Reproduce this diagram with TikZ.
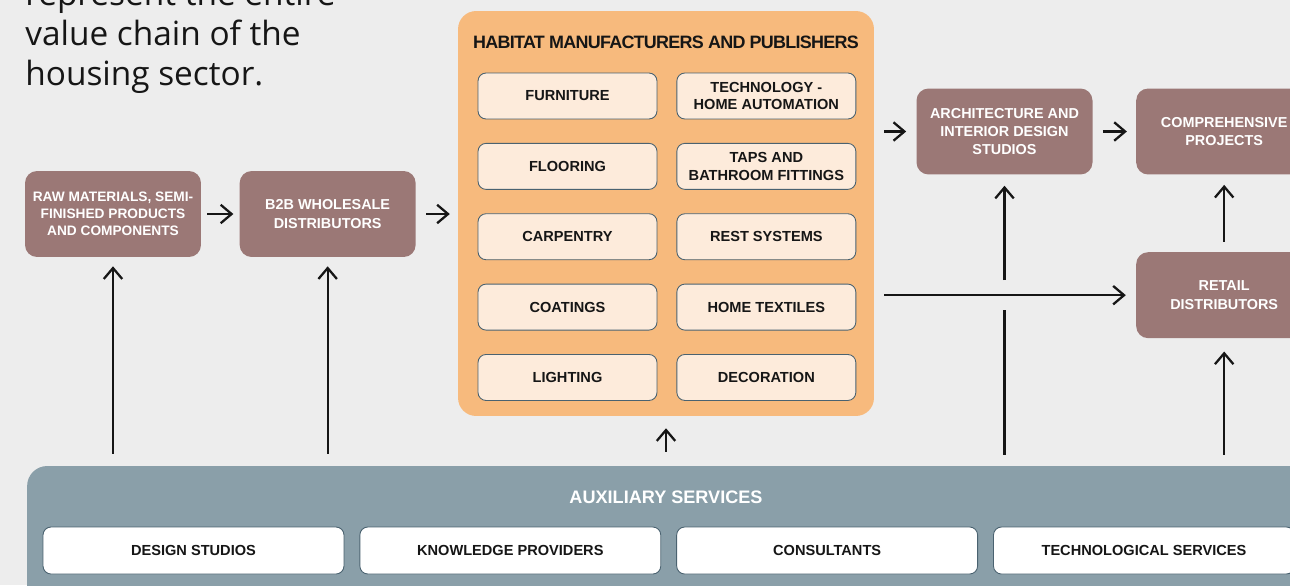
\documentclass[tikz,border=0pt]{standalone}
\usepackage{fontspec}
\setmainfont{Liberation Sans}
\newfontfamily\titlefont{Open Sans}
\newfontfamily\headfont[LetterSpace=-4]{Liberation Sans Bold}
\usetikzlibrary{arrows.meta, positioning}

\definecolor{bgcol}{HTML}{EDEDED}
\definecolor{stagecol}{HTML}{9B7876}
\definecolor{habitatcol}{HTML}{F7BA7D}
\definecolor{itemcol}{HTML}{FDEBDB}
\definecolor{auxcol}{HTML}{8A9FA9}
\definecolor{edgecol}{HTML}{4A6270}
\definecolor{inkcol}{HTML}{161616}

\begin{document}
\begin{tikzpicture}[
    x=0.02cm, y=-0.02cm,
    stagebox/.style={rectangle, fill=stagecol, rounded corners=0.24cm,
                     minimum width=3.52cm, minimum height=1.72cm, align=center,
                     text=white, font=\bfseries\fontsize{8.2}{10.4}\selectfont, inner sep=1pt},
    groupbox/.style={rectangle, fill=habitatcol, rounded corners=0.36cm,
                     minimum width=8.32cm, minimum height=8.1cm},
    itembox/.style={rectangle, draw=edgecol, line width=0.5pt, fill=itemcol,
                    rounded corners=0.16cm, minimum width=3.58cm, minimum height=0.92cm,
                    align=center, text=inkcol, font=\bfseries\fontsize{8.3}{10.2}\selectfont,
                    inner sep=1pt},
    servicebox/.style={itembox, fill=white, minimum width=6.02cm, minimum height=0.94cm},
    arrow/.style={-{Straight Barb[length=6.2pt, width=10.5pt]}, line width=1.3pt, draw=inkcol},
]
    \useasboundingbox (0,0) rectangle (1290,585);
    \clip (0,0) rectangle (1290,585);
    \fill[bgcol] (0,0) rectangle (1290,585);

    \node[anchor=base west, align=left, inner sep=0pt, text=inkcol,
          font=\titlefont\fontsize{19}{22.7}\selectfont] (intro) at (25,85)
        {represent the entire\\value chain of the\\housing sector.};

    % upstream chain
    \node[stagebox, font=\bfseries\fontsize{7.8}{9.6}\selectfont] (raw) at (113,214)
        {RAW MATERIALS, SEMI-\\FINISHED PRODUCTS\\AND COMPONENTS};
    \node[stagebox, right=0.76cm of raw] (b2b) {B2B WHOLESALE\\DISTRIBUTORS};

    % manufacturers block
    \node[groupbox] (habitat) at (666,213.5) {};
    \node[font=\headfont\fontsize{10.2}{12}\selectfont, text=inkcol] (habhead) at (666,42)
        {HABITAT MANUFACTURERS AND PUBLISHERS};

    \node[itembox] (furniture) at (567.5,96) {FURNITURE};
    \node[itembox, right=0.38cm of furniture] (tech) {TECHNOLOGY -\\HOME AUTOMATION};
    \node[itembox, below=0.47cm of furniture] (flooring) {FLOORING};
    \node[itembox, right=0.38cm of flooring] (taps) {TAPS AND\\BATHROOM FITTINGS};
    \node[itembox, below=0.47cm of flooring] (carpentry) {CARPENTRY};
    \node[itembox, right=0.38cm of carpentry] (rest) {REST SYSTEMS};
    \node[itembox, below=0.47cm of carpentry] (coatings) {COATINGS};
    \node[itembox, right=0.38cm of coatings] (textiles) {HOME TEXTILES};
    \node[itembox, below=0.47cm of coatings] (lighting) {LIGHTING};
    \node[itembox, right=0.38cm of lighting] (decoration) {DECORATION};

    % downstream chain
    \node[stagebox] (arch) at (1004.5,131.5) {ARCHITECTURE AND\\INTERIOR DESIGN\\STUDIOS};
    \node[stagebox, right=0.86cm of arch] (comp) {COMPREHENSIVE\\PROJECTS};
    \node[stagebox, below=1.54cm of comp] (retail) {RETAIL\\DISTRIBUTORS};

    % auxiliary services
    \node[rectangle, fill=auxcol, rounded corners=0.4cm, minimum width=26.06cm,
          minimum height=3.08cm] (aux) at (678.5,543) {};
    \node[text=white, font=\bfseries\fontsize{10.3}{12}\selectfont] (auxhead) at (666,497)
        {AUXILIARY SERVICES};
    \node[servicebox] (design) at (193.5,550.5) {DESIGN STUDIOS};
    \node[servicebox, right=0.3cm of design] (knowledge) {KNOWLEDGE PROVIDERS};
    \node[servicebox, right=0.3cm of knowledge] (consult) {CONSULTANTS};
    \node[servicebox, right=0.3cm of consult] (techserv) {TECHNOLOGICAL SERVICES};

    % flows
    \draw[arrow, shorten <=3.4pt, shorten >=3.4pt] (raw) -- (b2b);
    \draw[arrow, shorten <=5.7pt, shorten >=4.5pt] (b2b.east) -- (b2b.east -| habitat.west);
    \draw[arrow, shorten <=5.7pt, shorten >=5.7pt] (arch.west -| habitat.east) -- (arch.west);
    \draw[arrow, shorten <=5.7pt, shorten >=5.1pt] (arch) -- (comp);
    \draw[arrow, shorten <=5.7pt, shorten >=5.7pt] (retail.west -| habitat.east) -- (retail.west);
    \draw[arrow, shorten <=5.7pt, shorten >=5.7pt] (retail) -- (comp);

    \draw[arrow, shorten <=6.8pt, shorten >=5.1pt] (aux.north -| raw) -- (raw.south);
    \draw[arrow, shorten <=6.8pt, shorten >=5.1pt] (aux.north -| b2b) -- (b2b.south);
    \draw[arrow, shorten <=7.9pt, shorten >=6.8pt] (aux.north -| habitat) -- (habitat.south);
    \draw[arrow, shorten <=6.2pt, shorten >=7.4pt] (aux.north -| retail) -- (retail.south);

    % line jump over the retail flow
    \coordinate (cross) at (arch.south |- retail.west);
    \draw[arrow, -, shorten <=6.2pt] (aux.north -| arch) -- ([yshift=-8.5pt]cross);
    \draw[arrow, shorten >=6.2pt] ([yshift=8.5pt]cross) -- (arch.south);
\end{tikzpicture}
\end{document}
